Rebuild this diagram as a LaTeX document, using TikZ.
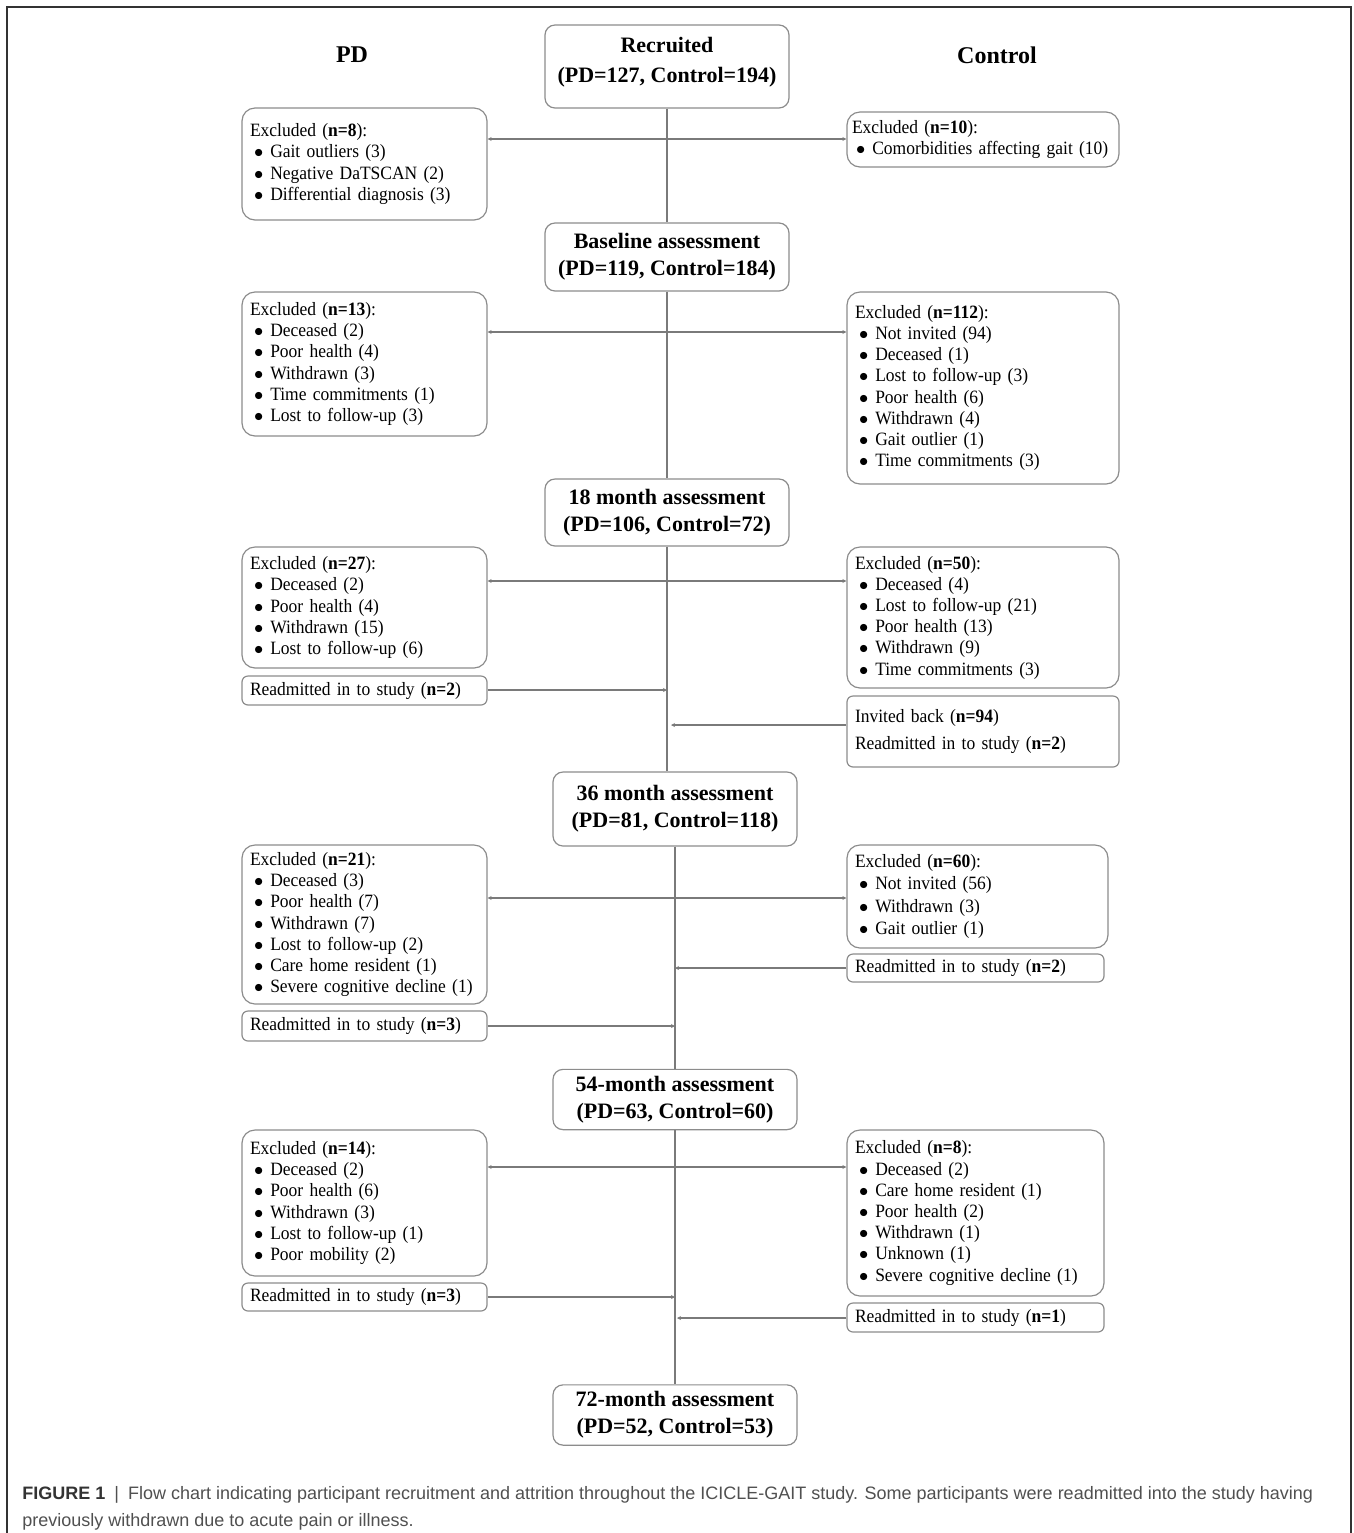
\documentclass[tikz,border=0pt]{standalone}
\usepackage{fontspec}
\setmainfont{Liberation Serif}
\newfontfamily\boxfont[FakeStretch=0.93,WordSpace=0.8]{Liberation Serif}
\newfontfamily\capfont{Liberation Sans}
\usetikzlibrary{arrows.meta}

\definecolor{boxgray}{HTML}{8C8C8C}
\definecolor{linegray}{HTML}{7A7A7A}
\definecolor{capgray}{HTML}{505050}
\definecolor{framegray}{HTML}{333333}

\newcommand{\itm}[1]{\hspace*{2pt}$\bullet$\hspace{3.5pt}#1}

\tikzset{
    box/.style={draw=boxgray, line width=0.6pt, rounded corners=6.5pt, inner xsep=4pt, inner ysep=2pt,
        align=left, font=\boxfont\fontsize{9.4}{10.6}\selectfont},
    lbox/.style={box, text width=114.5pt},
    rbox/.style={box, text width=128pt},
    rboxs/.style={box, text width=120.5pt},
    readmit/.style={rounded corners=3pt},
    stage/.style={draw=boxgray, line width=0.6pt, rounded corners=5pt, minimum width=122pt,
        align=center, font=\bfseries\fontsize{11}{13.5}\selectfont},
    link/.style={draw=linegray, line width=0.6pt},
}

\begin{document}
\begin{tikzpicture}[x=0.5pt,y=-0.5pt,>={Stealth[length=2pt,width=2pt]}]
    \useasboundingbox (0,0) rectangle (1354,1533);
    \draw[framegray, line width=1pt] (7,1533) -- (7,7) -- (1351,7) -- (1351,1533);

    % column heads
    \node[font=\bfseries\fontsize{12}{14}\selectfont] (headPD) at (352,55) {PD};
    \node[font=\bfseries\fontsize{12}{14}\selectfont] (headC) at (997,55) {Control};

    % assessments
    \node[stage, minimum height=41.5pt, text depth=7pt] (rec) at (667,66.5) {Recruited\\[1.5pt] (PD=127, Control=194)};
    \node[stage, minimum height=34pt] (base) at (667,257) {Baseline assessment\\ (PD=119, Control=184)};
    \node[stage, minimum height=33.5pt] (m18) at (667,512.5) {18 month assessment\\ (PD=106, Control=72)};
    \node[stage, minimum height=37pt] (m36) at (675,809) {36 month assessment\\ (PD=81, Control=118)};
    \node[stage, minimum height=28.5pt] (m54) at (675,1099.5) {54-month assessment\\ (PD=63, Control=60)};
    \node[stage, minimum height=30pt] (m72) at (675,1415) {72-month assessment\\ (PD=52, Control=53)};

    % exclusions, PD side
    \node[lbox, minimum height=56pt] (exPD1) at (364.5,164) {Excluded (\textbf{n=8}):\\ \itm{Gait outliers (3)}\\ \itm{Negative DaTSCAN (2)}\\ \itm{Differential diagnosis (3)}\\[10pt]};
    \node[lbox, minimum height=72pt] (exPD2) at (364.5,364) {Excluded (\textbf{n=13}):\\ \itm{Deceased (2)}\\ \itm{Poor health (4)}\\ \itm{Withdrawn (3)}\\ \itm{Time commitments (1)}\\ \itm{Lost to follow-up (3)}};
    \node[lbox, minimum height=60.5pt] (exPD3) at (364.5,607.5) {Excluded (\textbf{n=27}):\\ \itm{Deceased (2)}\\ \itm{Poor health (4)}\\ \itm{Withdrawn (15)}\\ \itm{Lost to follow-up (6)}};
    \node[lbox, minimum height=79.5pt] (exPD4) at (364.5,924.5) {Excluded (\textbf{n=21}):\\ \itm{Deceased (3)}\\ \itm{Poor health (7)}\\ \itm{Withdrawn (7)}\\ \itm{Lost to follow-up (2)}\\ \itm{Care home resident (1)}\\ \itm{Severe cognitive decline (1)}};
    \node[lbox, minimum height=73pt] (exPD5) at (364.5,1203) {Excluded (\textbf{n=14}):\\ \itm{Deceased (2)}\\ \itm{Poor health (6)}\\ \itm{Withdrawn (3)}\\ \itm{Lost to follow-up (1)}\\ \itm{Poor mobility (2)}};

    % exclusions, control side
    \node[rbox, inner xsep=2.5pt, text width=131pt, minimum height=27.5pt] (exC1) at (983,139.5) {Excluded (\textbf{n=10}):\\ \itm{Comorbidities affecting gait (10)}};
    \node[rbox, minimum height=96pt] (exC2) at (983,388) {Excluded (\textbf{n=112}):\\ \itm{Not invited (94)}\\ \itm{Deceased (1)}\\ \itm{Lost to follow-up (3)}\\ \itm{Poor health (6)}\\ \itm{Withdrawn (4)}\\ \itm{Gait outlier (1)}\\ \itm{Time commitments (3)}};
    \node[rbox, minimum height=70.5pt] (exC3) at (983,617.5) {Excluded (\textbf{n=50}):\\ \itm{Deceased (4)}\\ \itm{Lost to follow-up (21)}\\ \itm{Poor health (13)}\\ \itm{Withdrawn (9)}\\ \itm{Time commitments (3)}};
    \node[rboxs, text width=122.5pt, minimum height=51.5pt] (exC4) at (977.5,896.5) {Excluded (\textbf{n=60}):\\[0.5pt] \itm{Not invited (56)}\\[0.5pt] \itm{Withdrawn (3)}\\[0.5pt] \itm{Gait outlier (1)}};
    \node[rboxs, minimum height=83pt] (exC5) at (975.5,1213) {Excluded (\textbf{n=8}):\\ \itm{Deceased (2)}\\ \itm{Care home resident (1)}\\ \itm{Poor health (2)}\\ \itm{Withdrawn (1)}\\ \itm{Unknown (1)}\\ \itm{Severe cognitive decline (1)}};

    % readmissions
    \node[lbox, readmit, minimum height=14.5pt] (rePD3) at (364.5,690.5) {Readmitted in to study (\textbf{n=2})};
    \node[rbox, readmit, minimum height=35.5pt] (reC3) at (983,731.5) {Invited back (\textbf{n=94})\\[3pt] Readmitted in to study (\textbf{n=2})\\[6pt]};
    \node[rboxs, readmit, minimum height=14pt] (reC4) at (975.5,968) {Readmitted in to study (\textbf{n=2})};
    \node[lbox, readmit, minimum height=15pt] (rePD4) at (364.5,1026) {Readmitted in to study (\textbf{n=3})};
    \node[lbox, readmit, minimum height=14pt] (rePD5) at (364.5,1297) {Readmitted in to study (\textbf{n=3})};
    \node[rboxs, readmit, minimum height=14.5pt] (reC5) at (975.5,1317.5) {Readmitted in to study (\textbf{n=1})};

    % points on the trunk
    \coordinate (t1) at (667,139);
    \coordinate (t2) at (667,332);
    \coordinate (t3) at (667,581);
    \coordinate (j3a) at (667,690);
    \coordinate (j3b) at (671,725);
    \coordinate (t4) at (675,898);
    \coordinate (j4a) at (675,968);
    \coordinate (j4b) at (675,1026);
    \coordinate (t5) at (675,1167);
    \coordinate (j5a) at (675,1297);
    \coordinate (j5b) at (677,1318);

    % trunk
    \draw[link] (rec) -- (base);
    \draw[link] (base) -- (m18);
    \draw[link] (m18.south) -- (m18.south |- m36.north);
    \draw[link] (m36) -- (m54);
    \draw[link] (m54) -- (m72);

    % exclusions
    \draw[link,<->] (exPD1.east |- t1) -- (exC1.west |- t1);
    \draw[link,<->] (exPD2.east |- t2) -- (exC2.west |- t2);
    \draw[link,<->] (exPD3.east |- t3) -- (exC3.west |- t3);
    \draw[link,<->] (exPD4.east |- t4) -- (exC4.west |- t4);
    \draw[link,<->] (exPD5.east |- t5) -- (exC5.west |- t5);

    % readmissions
    \draw[link,->] (rePD3.east |- j3a) -- (j3a);
    \draw[link,->] (reC3.west |- j3b) -- (j3b);
    \draw[link,->] (reC4.west |- j4a) -- (j4a);
    \draw[link,->] (rePD4.east |- j4b) -- (j4b);
    \draw[link,->] (rePD5.east |- j5a) -- (j5a);
    \draw[link,->] (reC5.west |- j5b) -- (j5b);

    % caption
    \node[anchor=base west, inner sep=0, align=left, text=capgray, font=\capfont\fontsize{9}{13.5}\selectfont] (cap) at (22,1526)
        {\textcolor{framegray}{\textbf{FIGURE 1}}\enspace|\enspace Flow chart indicating participant recruitment and attrition throughout the ICICLE-GAIT study. Some participants were readmitted into the study having\\ previously withdrawn due to acute pain or illness.};
\end{tikzpicture}
\end{document}
